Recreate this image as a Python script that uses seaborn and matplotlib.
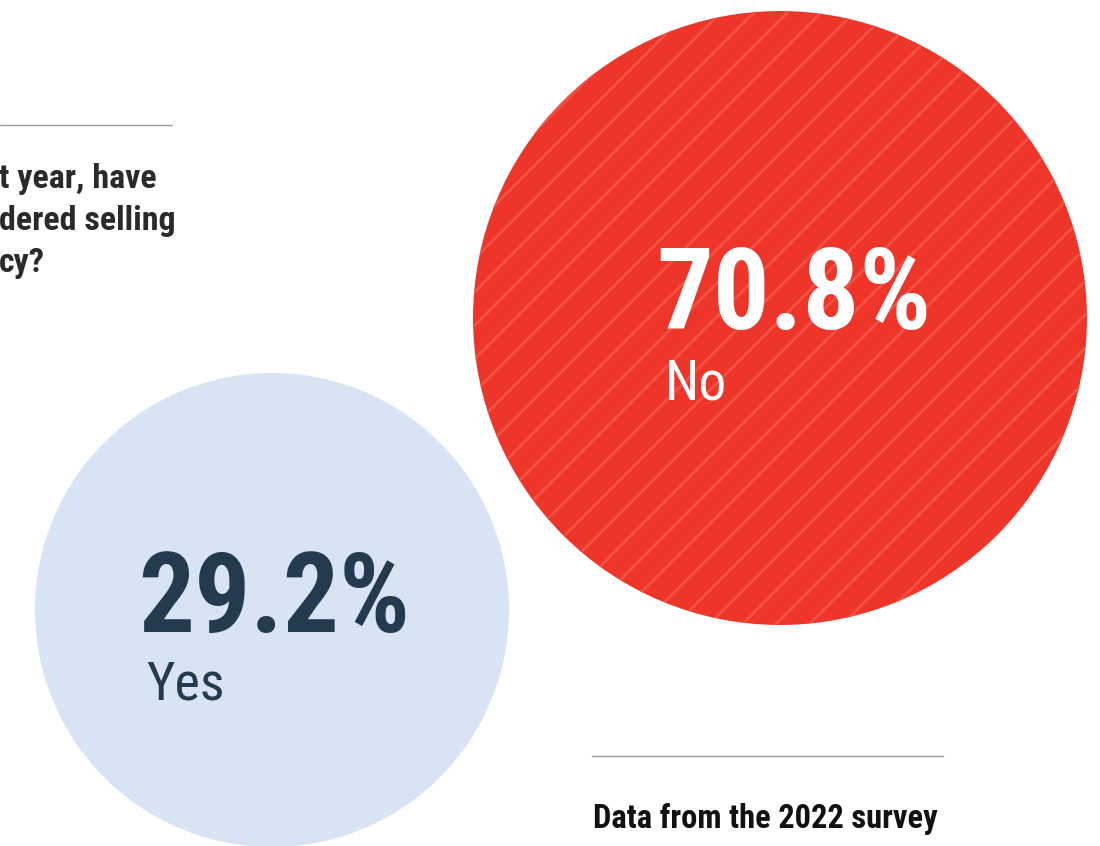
import matplotlib
matplotlib.use("Agg")
import matplotlib.pyplot as plt
import seaborn as sns
import pandas as pd

# ---- data ----
labels = ["Yes", "No"]
values = [29.2, 70.8]
value_text = ["29.2%", "70.8%"]
question_lines = ["t year, have", "dered selling", "cy?"]
footnote = "Data from the 2022 survey"

# ---- layout (pixel canvas) ----
x_pos = [272, 780]
y_pos = [610, 318]
colors = {"Yes": "#d8e4f4", "No": "#ee3529"}
text_colors = {"Yes": "#243a4e", "No": "#ffffff"}
HATCH_COLOR = "#f25144"

sns.set_theme(style="white")
plt.rcParams["font.family"] = ["Roboto Condensed", "Archivo Narrow", "DejaVu Sans"]
plt.rcParams["hatch.color"] = HATCH_COLOR
plt.rcParams["hatch.linewidth"] = 2.0

df = pd.DataFrame({"label": labels, "value": values, "x": x_pos, "y": y_pos})

fig = plt.figure(figsize=(11, 8.46), dpi=100)
ax = fig.add_axes([0, 0, 1, 1])
ax.set_xlim(0, 1100)
ax.set_ylim(846, 0)
ax.axis("off")

for lab in labels:
    sub = df[df["label"] == lab]
    sns.scatterplot(data=sub, x="x", y="y", size="value", sizes=(116500, 195400),
                    size_norm=(29.2, 70.8), color=colors[lab], linewidth=0,
                    legend=False, ax=ax)
    coll = ax.collections[-1]
    coll.set_facecolor(colors[lab])
    if lab == "No":
        coll.set_edgecolor(HATCH_COLOR)
        coll.set_linewidth(0)
        coll.set_hatch("/")
    else:
        coll.set_edgecolor("none")
ax.set_xlim(0, 1100)
ax.set_ylim(846, 0)
ax.set_xlabel("")
ax.set_ylabel("")

# value labels
ax.text(656, 329, value_text[1], color=text_colors["No"], fontsize=81,
        fontweight="bold", va="baseline", ha="left")
ax.text(665, 400, labels[1], color=text_colors["No"], fontsize=40,
        va="baseline", ha="left")
ax.text(138, 632, value_text[0], color=text_colors["Yes"], fontsize=80,
        fontweight="bold", va="baseline", ha="left")
ax.text(146, 700, labels[0], color=text_colors["Yes"], fontsize=39,
        va="baseline", ha="left")

# question text (cropped at the left edge)
for i, line in enumerate(question_lines):
    ax.text(-1, 188 + 42 * i, line, color="#2a2a2a", fontsize=24.5,
            fontweight="bold", va="baseline", ha="left")

# rules
ax.plot([0, 172], [125, 125], color="#9a9a9a", lw=1)
ax.plot([592, 943], [756, 756], color="#9a9a9a", lw=1)

ax.text(593, 828, footnote, color="#111111", fontsize=23.5, fontweight="bold",
        va="baseline", ha="left")

fig.savefig("out.png", dpi=100)
